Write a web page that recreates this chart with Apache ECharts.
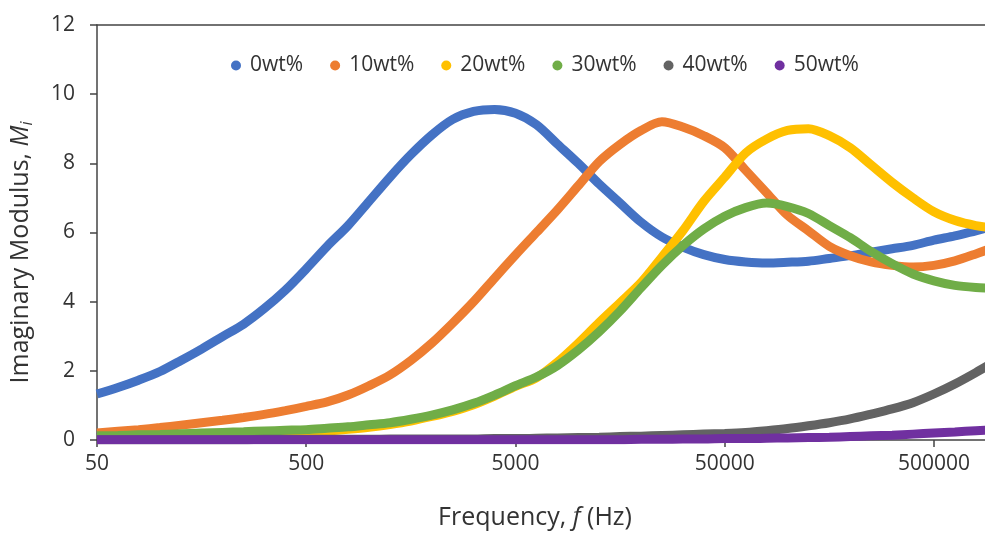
<!DOCTYPE html>
<html>
<head>
<meta charset="utf-8">
<script src="https://cdn.jsdelivr.net/npm/echarts@6/dist/echarts.min.js"></script>
<style>
  html, body { margin: 0; padding: 0; background: #fff; }
  #main { width: 985px; height: 533px; }
</style>
</head>
<body>
<div id="main"></div>
<script>
// frequencies (Hz)
const freqs = [50, 63, 79, 100, 126, 158, 199, 251, 315, 397,
  500, 629, 792, 998, 1256, 1581, 1991, 2506, 3155, 3972,
  5000, 6295, 7924, 9976, 12559, 15811, 19905, 25059, 31548, 39716,
  50000, 62946, 79245, 99763, 125594, 158114, 199054, 250594, 315479, 397164,
  500000, 629463, 792447, 997631];

const wt0 = [1.33, 1.52, 1.73, 1.98, 2.3, 2.63, 2.99, 3.35, 3.8, 4.33,
  4.95, 5.6, 6.2, 6.9, 7.6, 8.25, 8.82, 9.27, 9.5, 9.56,
  9.45, 9.12, 8.56, 8.0, 7.4, 6.85, 6.3, 5.87, 5.58, 5.36,
  5.22, 5.15, 5.12, 5.14, 5.17, 5.25, 5.33, 5.43, 5.53, 5.63,
  5.78, 5.9, 6.05, 6.2];
const wt10 = [0.2, 0.25, 0.3, 0.36, 0.43, 0.5, 0.57, 0.65, 0.74, 0.85,
  0.97, 1.1, 1.3, 1.57, 1.88, 2.3, 2.8, 3.38, 4.0, 4.68,
  5.35, 6.0, 6.65, 7.35, 8.05, 8.55, 8.95, 9.2, 9.05, 8.8,
  8.45, 7.8, 7.15, 6.5, 6.05, 5.6, 5.33, 5.15, 5.05, 5.0,
  5.05, 5.18, 5.38, 5.6];
const wt20 = [0.05, 0.06, 0.07, 0.08, 0.09, 0.1, 0.12, 0.14, 0.16, 0.19,
  0.22, 0.26, 0.31, 0.37, 0.45, 0.55, 0.68, 0.83, 1.02, 1.27,
  1.55, 1.8, 2.25, 2.8, 3.4, 3.97, 4.55, 5.29, 6.05, 6.9,
  7.6, 8.3, 8.7, 8.95, 9.0, 8.8, 8.45, 7.95, 7.45, 7.0,
  6.6, 6.35, 6.2, 6.12];
const wt30 = [0.12, 0.13, 0.15, 0.16, 0.18, 0.2, 0.22, 0.24, 0.26, 0.28,
  0.3, 0.34, 0.38, 0.44, 0.5, 0.6, 0.72, 0.87, 1.06, 1.3,
  1.57, 1.82, 2.15, 2.6, 3.13, 3.73, 4.4, 5.05, 5.62, 6.1,
  6.47, 6.72, 6.85, 6.75, 6.55, 6.2, 5.85, 5.45, 5.1, 4.8,
  4.6, 4.47, 4.41, 4.38];
const wt40 = [0.01, 0.01, 0.01, 0.01, 0.01, 0.01, 0.01, 0.01, 0.02, 0.02,
  0.02, 0.02, 0.02, 0.02, 0.03, 0.03, 0.03, 0.03, 0.03, 0.04,
  0.04, 0.05, 0.06, 0.07, 0.08, 0.1, 0.11, 0.13, 0.15, 0.17,
  0.19, 0.22, 0.27, 0.33, 0.41, 0.5, 0.61, 0.75, 0.9, 1.08,
  1.33, 1.62, 1.95, 2.3];
const wt50 = [0.01, 0.01, 0.01, 0.01, 0.01, 0.01, 0.01, 0.01, 0.01, 0.01,
  0.01, 0.01, 0.01, 0.01, 0.01, 0.01, 0.01, 0.01, 0.01, 0.01,
  0.01, 0.01, 0.01, 0.01, 0.01, 0.01, 0.02, 0.02, 0.03, 0.03,
  0.04, 0.04, 0.05, 0.06, 0.07, 0.08, 0.1, 0.12, 0.14, 0.17,
  0.2, 0.23, 0.27, 0.3];

const seriesNames = ["0wt%", "10wt%", "20wt%", "30wt%", "40wt%", "50wt%"];
const seriesValues = [wt0, wt10, wt20, wt30, wt40, wt50];
const colors = ["#4472C4", "#ED7D31", "#FFC000", "#70AD47", "#636363", "#7030A0"];

// x axis is drawn in decades above 50 Hz so the ticks land on 50, 500, 5000...
const BASE_F = 50;
const X_MAX = 4.244;
const toDecade = (f) => Math.log10(f / BASE_F);

const textColor = "#333";
const font = "Open Sans";

var chart = echarts.init(document.getElementById("main"));

var series = seriesNames.map(function (name, i) {
	return {
		name: name,
		type: "line",
		data: freqs.map((f, j) => [toDecade(f), seriesValues[i][j]]),
		showSymbol: false,
		smooth: 0.3,
		lineStyle: { width: 9, color: colors[i] },
		itemStyle: { color: colors[i] },
		clip: true,
	};
});

var option = {
	animation: false,
	textStyle: { fontFamily: font },
	grid: { left: 97, right: 0, top: 25, bottom: 93, outerBoundsMode: "none" },
	legend: {
		top: 50,
		left: 226,
		icon: "circle",
		itemWidth: 18,
		itemHeight: 10,
		itemGap: 27,
		textStyle: { fontFamily: font, fontSize: 21, color: textColor },
		data: seriesNames,
	},
	xAxis: [
		{
			type: "value",
			min: 0,
			max: X_MAX,
			interval: 1,
			name: "Frequency, {i|f} (Hz)",
			nameLocation: "middle",
			nameGap: 65,
			nameTextStyle: {
				fontFamily: font,
				fontSize: 25,
				color: textColor,
				padding: [0, 12, 0, 0],
				rich: { i: { fontStyle: "italic", fontFamily: font, fontSize: 25, color: textColor } },
			},
			axisLine: { lineStyle: { color: "#444", width: 1.5 } },
			axisTick: { length: 7, lineStyle: { color: "#444", width: 1.5 } },
			axisLabel: {
				margin: 14,
				fontSize: 21,
				color: textColor,
				showMaxLabel: false,
				formatter: function (v) {
					if (Math.abs(v - Math.round(v)) > 1e-6) return "";
					return String(Math.round(BASE_F * Math.pow(10, v)));
				},
			},
			splitLine: { show: false },
		},
		{
			// top frame line
			type: "value",
			position: "top",
			min: 0,
			max: X_MAX,
			axisLine: { lineStyle: { color: "#444", width: 1.5 } },
			axisTick: { show: false },
			axisLabel: { show: false },
			splitLine: { show: false },
		},
	],
	yAxis: {
		type: "value",
		min: 0,
		max: 12,
		interval: 2,
		name: "Imaginary Modulus, {m|M}{s|i}",
		nameLocation: "middle",
		nameGap: 62,
		nameTextStyle: {
			fontFamily: font,
			fontSize: 25,
			color: textColor,
			padding: [0, 40, 0, 0],
			rich: {
				m: { fontStyle: "italic", fontFamily: font, fontSize: 25, color: textColor },
				s: { fontStyle: "italic", fontFamily: font, fontSize: 16, color: textColor, verticalAlign: "bottom", padding: [12, 0, 0, 0] },
			},
		},
		axisLine: { show: true, lineStyle: { color: "#444", width: 1.5 } },
		axisTick: { show: true, length: 7, lineStyle: { color: "#444", width: 1.5 } },
		axisLabel: { margin: 22, fontSize: 21, color: textColor },
		splitLine: { show: false },
	},
	series: series,
};

chart.setOption(option);
</script>
</body>
</html>
